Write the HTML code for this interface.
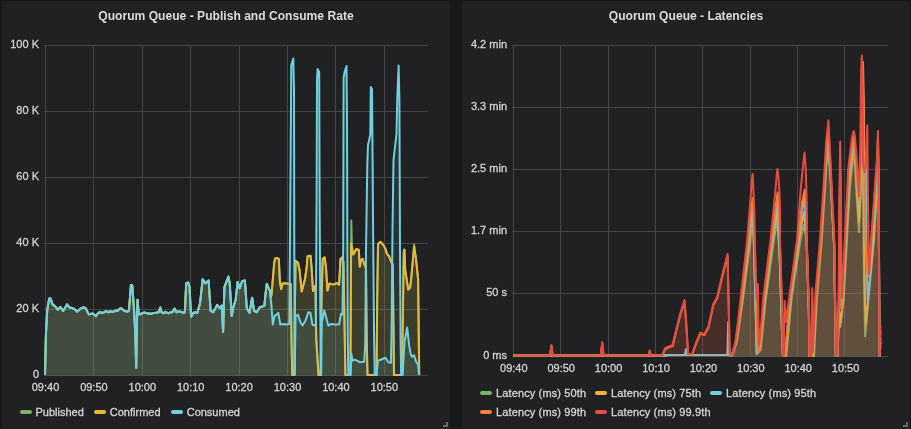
<!DOCTYPE html>
<html><head><meta charset="utf-8"><title>Quorum Queue</title>
<style>
html,body{margin:0;padding:0;background:#161719;}
body{width:911px;height:429px;overflow:hidden;position:relative;font-family:"Liberation Sans",sans-serif;color:#d8d9da;}
.panel{position:absolute;top:1px;height:440px;background:#212124;border-radius:2px;}
.title{position:absolute;top:7.5px;height:16px;line-height:16px;text-align:center;font-weight:bold;font-size:12.1px;color:#dcdcdd;white-space:nowrap;}
.cv{position:absolute;left:0;top:0;}
.yl,.xl,.lg{-webkit-text-stroke:0.3px #d4d4d5;}
.yl{position:absolute;height:14px;line-height:14px;font-size:11px;color:#d4d4d5;white-space:nowrap;text-align:right;}
.xl{position:absolute;width:40px;height:14px;line-height:14px;font-size:11px;color:#d4d4d5;text-align:center;white-space:nowrap;}
.lg{position:absolute;height:14px;line-height:14px;font-size:11px;color:#d8d9da;white-space:nowrap;}
.ls{letter-spacing:0.13px;}
.lg i{position:absolute;left:-16px;top:5px;width:12px;height:4px;border-radius:2px;display:block;}
</style></head><body>
<div class="panel" style="left:2px;width:448px"></div>
<div class="panel" style="left:462px;width:448px"></div>
<svg class="cv" width="911" height="429" viewBox="0 0 911 429">
<g stroke="#464649" stroke-width="1" shape-rendering="crispEdges">
<line x1="45.5" y1="45.0" x2="45.5" y2="376.0"/>
<line x1="93.5" y1="45.0" x2="93.5" y2="376.0"/>
<line x1="142.5" y1="45.0" x2="142.5" y2="376.0"/>
<line x1="190.5" y1="45.0" x2="190.5" y2="376.0"/>
<line x1="239.5" y1="45.0" x2="239.5" y2="376.0"/>
<line x1="287.5" y1="45.0" x2="287.5" y2="376.0"/>
<line x1="335.5" y1="45.0" x2="335.5" y2="376.0"/>
<line x1="384.5" y1="45.0" x2="384.5" y2="376.0"/>
<line x1="44.0" y1="45.5" x2="427.5" y2="45.5"/>
<line x1="44.0" y1="111.5" x2="427.5" y2="111.5"/>
<line x1="44.0" y1="177.5" x2="427.5" y2="177.5"/>
<line x1="44.0" y1="243.5" x2="427.5" y2="243.5"/>
<line x1="44.0" y1="309.5" x2="427.5" y2="309.5"/>
<line x1="44.0" y1="375.5" x2="427.5" y2="375.5"/>
</g>
<g stroke="#464649" stroke-width="1" shape-rendering="crispEdges">
<line x1="513.5" y1="45.0" x2="513.5" y2="357.0"/>
<line x1="560.5" y1="45.0" x2="560.5" y2="357.0"/>
<line x1="608.5" y1="45.0" x2="608.5" y2="357.0"/>
<line x1="655.5" y1="45.0" x2="655.5" y2="357.0"/>
<line x1="702.5" y1="45.0" x2="702.5" y2="357.0"/>
<line x1="750.5" y1="45.0" x2="750.5" y2="357.0"/>
<line x1="797.5" y1="45.0" x2="797.5" y2="357.0"/>
<line x1="844.5" y1="45.0" x2="844.5" y2="357.0"/>
<line x1="512.0" y1="45.5" x2="888.0" y2="45.5"/>
<line x1="512.0" y1="107.5" x2="888.0" y2="107.5"/>
<line x1="512.0" y1="169.5" x2="888.0" y2="169.5"/>
<line x1="512.0" y1="231.5" x2="888.0" y2="231.5"/>
<line x1="512.0" y1="293.5" x2="888.0" y2="293.5"/>
<line x1="512.0" y1="356.5" x2="888.0" y2="356.5"/>
</g>
<polygon points="45.0,375.0 45.9,335.0 47.2,310.3 49.2,298.4 50.5,298.4 52.5,304.4 55.2,306.4 57.8,309.6 60.4,307.0 63.1,311.0 67.0,304.4 69.6,307.7 71.2,307.7 72.9,308.3 74.9,309.3 76.9,311.6 78.8,310.2 80.8,308.3 83.2,307.3 85.5,307.9 88.7,314.3 90.7,314.0 92.7,313.6 94.3,314.7 96.0,316.2 97.7,313.5 99.3,312.3 101.2,312.6 103.2,312.9 105.9,311.0 108.5,312.3 110.3,311.2 112.0,311.7 113.8,311.6 115.8,310.5 117.7,311.0 119.3,308.9 121.0,308.3 122.7,309.5 124.3,311.0 127.0,311.6 128.9,311.0 130.9,285.3 132.2,285.3 134.2,311.6 135.5,340.0 136.2,368.0 136.8,330.0 137.5,299.8 138.8,314.3 140.8,314.2 142.8,312.9 144.5,312.5 146.3,312.9 148.0,313.6 149.8,313.6 151.5,313.9 153.3,312.9 155.1,312.9 156.8,312.4 158.6,312.5 160.3,307.5 161.6,312.2 163.4,313.3 165.3,311.8 167.1,312.8 168.9,313.2 170.6,312.0 172.4,312.2 174.6,308.5 176.4,312.2 178.1,311.6 179.8,311.5 181.5,311.9 183.2,312.8 184.9,312.2 186.2,283.2 188.2,282.5 189.5,287.1 191.1,316.8 193.5,312.8 195.4,312.2 197.4,312.8 200.1,302.9 202.7,279.2 205.3,283.2 206.9,282.0 208.6,280.5 210.6,310.8 213.2,312.2 217.2,304.9 219.8,308.2 221.8,305.6 223.1,332.0 224.4,287.1 228.4,276.6 229.7,283.2 231.7,316.1 233.7,305.6 235.6,300.3 237.6,281.9 239.6,288.4 242.2,281.2 244.9,280.5 246.8,308.2 249.5,312.8 252.1,297.7 254.1,310.8 256.7,312.2 260.0,306.9 262.2,306.5 264.4,305.5 265.4,294.9 266.8,283.8 269.9,290.9 270.8,297.0 271.5,295.0 274.2,263.0 275.0,258.6 276.6,258.0 278.8,258.9 279.9,282.0 281.2,289.0 282.5,283.6 285.2,283.2 287.8,283.8 290.8,284.0 291.5,340.0 292.3,375.0 294.3,375.0 295.0,300.0 295.6,260.8 298.0,262.8 299.5,269.7 301.7,291.5 305.0,279.0 306.6,268.0 307.6,256.2 310.6,255.8 311.6,268.0 313.0,291.0 314.8,286.0 315.5,290.0 316.3,340.0 318.5,375.0 320.5,375.0 321.5,300.0 322.7,258.9 324.7,257.4 326.0,267.8 327.5,290.5 329.4,283.4 333.1,284.6 336.6,283.1 339.1,284.6 340.5,258.9 342.0,257.4 343.5,262.0 344.4,317.0 345.4,375.0 350.4,375.0 350.9,300.0 351.3,220.5 351.9,246.0 353.3,254.5 356.3,249.0 358.8,250.0 359.8,266.8 361.2,259.9 362.7,258.9 364.2,263.8 366.0,268.0 366.7,340.0 367.5,375.0 376.5,375.0 377.2,300.0 378.0,244.2 380.3,241.7 383.5,245.1 385.5,249.0 387.0,254.0 389.0,256.0 390.9,261.0 392.8,265.0 393.6,340.0 394.0,375.0 402.0,375.0 402.8,320.0 403.8,252.0 404.4,249.6 405.2,269.8 408.2,289.5 410.2,287.5 411.1,279.6 414.1,244.5 416.1,259.9 418.1,279.6 418.6,320.0 419.2,375.0 419.2,375.5 45.0,375.5" fill="#7eb26d" fill-opacity="0.1" stroke="none"/>
<polyline points="45.0,375.0 45.9,335.0 47.2,310.3 49.2,298.4 50.5,298.4 52.5,304.4 55.2,306.4 57.8,309.6 60.4,307.0 63.1,311.0 67.0,304.4 69.6,307.7 71.2,307.7 72.9,308.3 74.9,309.3 76.9,311.6 78.8,310.2 80.8,308.3 83.2,307.3 85.5,307.9 88.7,314.3 90.7,314.0 92.7,313.6 94.3,314.7 96.0,316.2 97.7,313.5 99.3,312.3 101.2,312.6 103.2,312.9 105.9,311.0 108.5,312.3 110.3,311.2 112.0,311.7 113.8,311.6 115.8,310.5 117.7,311.0 119.3,308.9 121.0,308.3 122.7,309.5 124.3,311.0 127.0,311.6 128.9,311.0 130.9,285.3 132.2,285.3 134.2,311.6 135.5,340.0 136.2,368.0 136.8,330.0 137.5,299.8 138.8,314.3 140.8,314.2 142.8,312.9 144.5,312.5 146.3,312.9 148.0,313.6 149.8,313.6 151.5,313.9 153.3,312.9 155.1,312.9 156.8,312.4 158.6,312.5 160.3,307.5 161.6,312.2 163.4,313.3 165.3,311.8 167.1,312.8 168.9,313.2 170.6,312.0 172.4,312.2 174.6,308.5 176.4,312.2 178.1,311.6 179.8,311.5 181.5,311.9 183.2,312.8 184.9,312.2 186.2,283.2 188.2,282.5 189.5,287.1 191.1,316.8 193.5,312.8 195.4,312.2 197.4,312.8 200.1,302.9 202.7,279.2 205.3,283.2 206.9,282.0 208.6,280.5 210.6,310.8 213.2,312.2 217.2,304.9 219.8,308.2 221.8,305.6 223.1,332.0 224.4,287.1 228.4,276.6 229.7,283.2 231.7,316.1 233.7,305.6 235.6,300.3 237.6,281.9 239.6,288.4 242.2,281.2 244.9,280.5 246.8,308.2 249.5,312.8 252.1,297.7 254.1,310.8 256.7,312.2 260.0,306.9 262.2,306.5 264.4,305.5 265.4,294.9 266.8,283.8 269.9,290.9 270.8,297.0 271.5,295.0 274.2,263.0 275.0,258.6 276.6,258.0 278.8,258.9 279.9,282.0 281.2,289.0 282.5,283.6 285.2,283.2 287.8,283.8 290.8,284.0 291.5,340.0 292.3,375.0 294.3,375.0 295.0,300.0 295.6,260.8 298.0,262.8 299.5,269.7 301.7,291.5 305.0,279.0 306.6,268.0 307.6,256.2 310.6,255.8 311.6,268.0 313.0,291.0 314.8,286.0 315.5,290.0 316.3,340.0 318.5,375.0 320.5,375.0 321.5,300.0 322.7,258.9 324.7,257.4 326.0,267.8 327.5,290.5 329.4,283.4 333.1,284.6 336.6,283.1 339.1,284.6 340.5,258.9 342.0,257.4 343.5,262.0 344.4,317.0 345.4,375.0 350.4,375.0 350.9,300.0 351.3,220.5 351.9,246.0 353.3,254.5 356.3,249.0 358.8,250.0 359.8,266.8 361.2,259.9 362.7,258.9 364.2,263.8 366.0,268.0 366.7,340.0 367.5,375.0 376.5,375.0 377.2,300.0 378.0,244.2 380.3,241.7 383.5,245.1 385.5,249.0 387.0,254.0 389.0,256.0 390.9,261.0 392.8,265.0 393.6,340.0 394.0,375.0 402.0,375.0 402.8,320.0 403.8,252.0 404.4,249.6 405.2,269.8 408.2,289.5 410.2,287.5 411.1,279.6 414.1,244.5 416.1,259.9 418.1,279.6 418.6,320.0 419.2,375.0" fill="none" stroke="#7eb26d" stroke-width="2" stroke-linejoin="round" stroke-linecap="butt"/>
<polygon points="45.0,375.0 45.9,335.0 47.2,310.3 49.2,298.4 50.5,298.4 52.5,304.4 55.2,306.4 57.8,309.6 60.4,307.0 63.1,311.0 67.0,304.4 69.6,307.7 71.2,307.7 72.9,308.3 74.9,309.3 76.9,311.6 78.8,310.2 80.8,308.3 83.2,307.3 85.5,307.9 88.7,314.3 90.7,314.0 92.7,313.6 94.3,314.7 96.0,316.2 97.7,313.5 99.3,312.3 101.2,312.6 103.2,312.9 105.9,311.0 108.5,312.3 110.3,311.2 112.0,311.7 113.8,311.6 115.8,310.5 117.7,311.0 119.3,308.9 121.0,308.3 122.7,309.5 124.3,311.0 127.0,311.6 128.9,311.0 130.9,285.3 132.2,285.3 134.2,311.6 135.5,340.0 136.2,368.0 136.8,330.0 137.5,299.8 138.8,314.3 140.8,314.2 142.8,312.9 144.5,312.5 146.3,312.9 148.0,313.6 149.8,313.6 151.5,313.9 153.3,312.9 155.1,312.9 156.8,312.4 158.6,312.5 160.3,307.5 161.6,312.2 163.4,313.3 165.3,311.8 167.1,312.8 168.9,313.2 170.6,312.0 172.4,312.2 174.6,308.5 176.4,312.2 178.1,311.6 179.8,311.5 181.5,311.9 183.2,312.8 184.9,312.2 186.2,283.2 188.2,282.5 189.5,287.1 191.1,316.8 193.5,312.8 195.4,312.2 197.4,312.8 200.1,302.9 202.7,279.2 205.3,283.2 206.9,282.0 208.6,280.5 210.6,310.8 213.2,312.2 217.2,304.9 219.8,308.2 221.8,305.6 223.1,332.0 224.4,287.1 228.4,276.6 229.7,283.2 231.7,316.1 233.7,305.6 235.6,300.3 237.6,281.9 239.6,288.4 242.2,281.2 244.9,280.5 246.8,308.2 249.5,312.8 252.1,297.7 254.1,310.8 256.7,312.2 260.0,306.9 262.2,306.5 264.4,305.5 265.4,294.9 266.8,283.8 269.9,290.9 270.8,297.0 271.5,295.0 274.2,263.0 275.0,258.6 276.6,258.0 278.8,258.9 279.9,282.0 281.2,289.0 282.5,283.6 285.2,283.2 287.8,283.8 290.8,284.0 291.5,340.0 292.3,375.0 294.3,375.0 295.0,300.0 295.6,260.8 298.0,262.8 299.5,269.7 301.7,291.5 305.0,279.0 306.6,268.0 307.6,256.2 310.6,255.8 311.6,268.0 313.0,291.0 314.8,286.0 315.5,290.0 316.3,340.0 318.5,375.0 320.5,375.0 321.5,300.0 322.7,258.9 324.7,257.4 326.0,267.8 327.5,290.5 329.4,283.4 333.1,284.6 336.6,283.1 339.1,284.6 340.5,258.9 342.0,257.4 343.5,262.0 344.4,317.0 345.4,375.0 350.4,375.0 350.9,243.2 353.3,254.5 356.3,249.0 358.8,250.0 359.8,266.8 361.2,259.9 362.7,258.9 364.2,263.8 366.0,268.0 366.7,340.0 367.5,375.0 376.5,375.0 377.2,300.0 378.0,244.2 380.3,241.7 383.5,245.1 385.5,249.0 387.0,254.0 389.0,256.0 390.9,261.0 392.8,265.0 393.6,340.0 394.0,375.0 402.0,375.0 402.8,320.0 403.8,252.0 404.4,249.6 405.2,269.8 408.2,289.5 410.2,287.5 411.1,279.6 414.1,247.0 416.1,259.9 418.1,279.6 418.6,320.0 419.2,375.0 419.2,375.5 45.0,375.5" fill="#eab839" fill-opacity="0.1" stroke="none"/>
<polyline points="45.0,375.0 45.9,335.0 47.2,310.3 49.2,298.4 50.5,298.4 52.5,304.4 55.2,306.4 57.8,309.6 60.4,307.0 63.1,311.0 67.0,304.4 69.6,307.7 71.2,307.7 72.9,308.3 74.9,309.3 76.9,311.6 78.8,310.2 80.8,308.3 83.2,307.3 85.5,307.9 88.7,314.3 90.7,314.0 92.7,313.6 94.3,314.7 96.0,316.2 97.7,313.5 99.3,312.3 101.2,312.6 103.2,312.9 105.9,311.0 108.5,312.3 110.3,311.2 112.0,311.7 113.8,311.6 115.8,310.5 117.7,311.0 119.3,308.9 121.0,308.3 122.7,309.5 124.3,311.0 127.0,311.6 128.9,311.0 130.9,285.3 132.2,285.3 134.2,311.6 135.5,340.0 136.2,368.0 136.8,330.0 137.5,299.8 138.8,314.3 140.8,314.2 142.8,312.9 144.5,312.5 146.3,312.9 148.0,313.6 149.8,313.6 151.5,313.9 153.3,312.9 155.1,312.9 156.8,312.4 158.6,312.5 160.3,307.5 161.6,312.2 163.4,313.3 165.3,311.8 167.1,312.8 168.9,313.2 170.6,312.0 172.4,312.2 174.6,308.5 176.4,312.2 178.1,311.6 179.8,311.5 181.5,311.9 183.2,312.8 184.9,312.2 186.2,283.2 188.2,282.5 189.5,287.1 191.1,316.8 193.5,312.8 195.4,312.2 197.4,312.8 200.1,302.9 202.7,279.2 205.3,283.2 206.9,282.0 208.6,280.5 210.6,310.8 213.2,312.2 217.2,304.9 219.8,308.2 221.8,305.6 223.1,332.0 224.4,287.1 228.4,276.6 229.7,283.2 231.7,316.1 233.7,305.6 235.6,300.3 237.6,281.9 239.6,288.4 242.2,281.2 244.9,280.5 246.8,308.2 249.5,312.8 252.1,297.7 254.1,310.8 256.7,312.2 260.0,306.9 262.2,306.5 264.4,305.5 265.4,294.9 266.8,283.8 269.9,290.9 270.8,297.0 271.5,295.0 274.2,263.0 275.0,258.6 276.6,258.0 278.8,258.9 279.9,282.0 281.2,289.0 282.5,283.6 285.2,283.2 287.8,283.8 290.8,284.0 291.5,340.0 292.3,375.0 294.3,375.0 295.0,300.0 295.6,260.8 298.0,262.8 299.5,269.7 301.7,291.5 305.0,279.0 306.6,268.0 307.6,256.2 310.6,255.8 311.6,268.0 313.0,291.0 314.8,286.0 315.5,290.0 316.3,340.0 318.5,375.0 320.5,375.0 321.5,300.0 322.7,258.9 324.7,257.4 326.0,267.8 327.5,290.5 329.4,283.4 333.1,284.6 336.6,283.1 339.1,284.6 340.5,258.9 342.0,257.4 343.5,262.0 344.4,317.0 345.4,375.0 350.4,375.0 350.9,243.2 353.3,254.5 356.3,249.0 358.8,250.0 359.8,266.8 361.2,259.9 362.7,258.9 364.2,263.8 366.0,268.0 366.7,340.0 367.5,375.0 376.5,375.0 377.2,300.0 378.0,244.2 380.3,241.7 383.5,245.1 385.5,249.0 387.0,254.0 389.0,256.0 390.9,261.0 392.8,265.0 393.6,340.0 394.0,375.0 402.0,375.0 402.8,320.0 403.8,252.0 404.4,249.6 405.2,269.8 408.2,289.5 410.2,287.5 411.1,279.6 414.1,247.0 416.1,259.9 418.1,279.6 418.6,320.0 419.2,375.0" fill="none" stroke="#eab839" stroke-width="2" stroke-linejoin="round" stroke-linecap="butt"/>
<polygon points="45.0,375.0 45.9,335.0 47.2,310.3 49.2,298.4 50.5,298.4 52.5,304.4 55.2,306.4 57.8,309.6 60.4,307.0 63.1,311.0 67.0,304.4 69.6,307.7 71.2,307.7 72.9,308.3 74.9,309.3 76.9,311.6 78.8,310.2 80.8,308.3 83.2,307.3 85.5,307.9 88.7,314.3 90.7,314.0 92.7,313.6 94.3,314.7 96.0,316.2 97.7,313.5 99.3,312.3 101.2,312.6 103.2,312.9 105.9,311.0 108.5,312.3 110.3,311.2 112.0,311.7 113.8,311.6 115.8,310.5 117.7,311.0 119.3,308.9 121.0,308.3 122.7,309.5 124.3,311.0 127.0,311.6 128.9,311.0 130.9,285.3 132.2,285.3 134.2,311.6 135.5,340.0 136.2,368.0 136.8,330.0 137.5,299.8 138.8,314.3 140.8,314.2 142.8,312.9 144.5,312.5 146.3,312.9 148.0,313.6 149.8,313.6 151.5,313.9 153.3,312.9 155.1,312.9 156.8,312.4 158.6,312.5 160.3,307.5 161.6,312.2 163.4,313.3 165.3,311.8 167.1,312.8 168.9,313.2 170.6,312.0 172.4,312.2 174.6,308.5 176.4,312.2 178.1,311.6 179.8,311.5 181.5,311.9 183.2,312.8 184.9,312.2 186.2,283.2 188.2,282.5 189.5,287.1 191.1,316.8 193.5,312.8 195.4,312.2 197.4,312.8 200.1,302.9 202.7,279.2 205.3,283.2 206.9,282.0 208.6,280.5 210.6,310.8 213.2,312.2 217.2,304.9 219.8,308.2 221.8,305.6 223.1,332.0 224.4,287.1 228.4,276.6 229.7,283.2 231.7,316.1 233.7,305.6 235.6,300.3 237.6,281.9 239.6,288.4 242.2,281.2 244.9,280.5 246.8,308.2 249.5,312.8 252.1,297.7 254.1,310.8 256.7,312.2 260.0,306.9 262.2,306.5 264.4,305.5 265.4,294.9 266.8,283.8 269.9,290.9 271.4,304.8 272.8,324.5 274.8,315.6 276.8,314.6 278.3,312.7 280.3,324.5 282.7,324.0 285.7,324.5 289.3,324.0 290.3,200.0 291.3,65.0 293.3,58.5 294.0,90.0 294.3,250.0 294.8,375.0 295.2,340.0 295.6,316.6 298.0,314.6 300.5,322.5 302.5,325.5 305.5,320.6 308.4,312.2 310.4,312.7 312.4,324.5 314.3,325.5 315.8,325.0 316.6,200.0 317.0,80.0 317.6,69.0 319.2,72.0 319.6,200.0 320.5,340.0 321.2,375.0 321.5,340.0 321.8,322.5 324.2,310.2 326.2,317.6 328.2,325.5 331.1,324.0 335.1,324.5 339.1,324.5 341.0,313.7 342.5,314.6 343.2,250.0 343.6,78.0 344.6,72.0 346.5,66.0 347.0,120.0 347.4,250.0 347.8,340.0 348.3,375.0 350.4,375.0 351.4,353.8 352.4,360.7 354.8,359.7 359.8,362.2 364.2,361.7 365.2,345.0 366.0,250.0 367.3,165.0 368.0,145.0 370.3,135.0 370.8,87.0 372.0,89.0 372.6,160.0 373.1,230.0 374.1,340.0 374.8,375.0 376.6,375.0 378.0,360.7 380.5,359.7 385.5,357.7 388.4,362.2 390.9,362.7 391.6,330.0 392.5,230.0 393.5,160.0 396.5,134.0 397.2,100.0 398.6,65.5 399.4,100.0 400.0,250.0 400.6,340.0 401.1,375.0 402.7,375.0 403.7,355.8 404.7,340.9 407.2,327.5 409.2,345.9 410.7,353.8 412.1,356.8 414.1,355.3 416.1,361.7 418.1,364.7 419.0,374.5 419.0,375.5 45.0,375.5" fill="#6ed0e0" fill-opacity="0.1" stroke="none"/>
<polyline points="45.0,375.0 45.9,335.0 47.2,310.3 49.2,298.4 50.5,298.4 52.5,304.4 55.2,306.4 57.8,309.6 60.4,307.0 63.1,311.0 67.0,304.4 69.6,307.7 71.2,307.7 72.9,308.3 74.9,309.3 76.9,311.6 78.8,310.2 80.8,308.3 83.2,307.3 85.5,307.9 88.7,314.3 90.7,314.0 92.7,313.6 94.3,314.7 96.0,316.2 97.7,313.5 99.3,312.3 101.2,312.6 103.2,312.9 105.9,311.0 108.5,312.3 110.3,311.2 112.0,311.7 113.8,311.6 115.8,310.5 117.7,311.0 119.3,308.9 121.0,308.3 122.7,309.5 124.3,311.0 127.0,311.6 128.9,311.0 130.9,285.3 132.2,285.3 134.2,311.6 135.5,340.0 136.2,368.0 136.8,330.0 137.5,299.8 138.8,314.3 140.8,314.2 142.8,312.9 144.5,312.5 146.3,312.9 148.0,313.6 149.8,313.6 151.5,313.9 153.3,312.9 155.1,312.9 156.8,312.4 158.6,312.5 160.3,307.5 161.6,312.2 163.4,313.3 165.3,311.8 167.1,312.8 168.9,313.2 170.6,312.0 172.4,312.2 174.6,308.5 176.4,312.2 178.1,311.6 179.8,311.5 181.5,311.9 183.2,312.8 184.9,312.2 186.2,283.2 188.2,282.5 189.5,287.1 191.1,316.8 193.5,312.8 195.4,312.2 197.4,312.8 200.1,302.9 202.7,279.2 205.3,283.2 206.9,282.0 208.6,280.5 210.6,310.8 213.2,312.2 217.2,304.9 219.8,308.2 221.8,305.6 223.1,332.0 224.4,287.1 228.4,276.6 229.7,283.2 231.7,316.1 233.7,305.6 235.6,300.3 237.6,281.9 239.6,288.4 242.2,281.2 244.9,280.5 246.8,308.2 249.5,312.8 252.1,297.7 254.1,310.8 256.7,312.2 260.0,306.9 262.2,306.5 264.4,305.5 265.4,294.9 266.8,283.8 269.9,290.9 271.4,304.8 272.8,324.5 274.8,315.6 276.8,314.6 278.3,312.7 280.3,324.5 282.7,324.0 285.7,324.5 289.3,324.0 290.3,200.0 291.3,65.0 293.3,58.5 294.0,90.0 294.3,250.0 294.8,375.0 295.2,340.0 295.6,316.6 298.0,314.6 300.5,322.5 302.5,325.5 305.5,320.6 308.4,312.2 310.4,312.7 312.4,324.5 314.3,325.5 315.8,325.0 316.6,200.0 317.0,80.0 317.6,69.0 319.2,72.0 319.6,200.0 320.5,340.0 321.2,375.0 321.5,340.0 321.8,322.5 324.2,310.2 326.2,317.6 328.2,325.5 331.1,324.0 335.1,324.5 339.1,324.5 341.0,313.7 342.5,314.6 343.2,250.0 343.6,78.0 344.6,72.0 346.5,66.0 347.0,120.0 347.4,250.0 347.8,340.0 348.3,375.0 350.4,375.0 351.4,353.8 352.4,360.7 354.8,359.7 359.8,362.2 364.2,361.7 365.2,345.0 366.0,250.0 367.3,165.0 368.0,145.0 370.3,135.0 370.8,87.0 372.0,89.0 372.6,160.0 373.1,230.0 374.1,340.0 374.8,375.0 376.6,375.0 378.0,360.7 380.5,359.7 385.5,357.7 388.4,362.2 390.9,362.7 391.6,330.0 392.5,230.0 393.5,160.0 396.5,134.0 397.2,100.0 398.6,65.5 399.4,100.0 400.0,250.0 400.6,340.0 401.1,375.0 402.7,375.0 403.7,355.8 404.7,340.9 407.2,327.5 409.2,345.9 410.7,353.8 412.1,356.8 414.1,355.3 416.1,361.7 418.1,364.7 419.0,374.5" fill="none" stroke="#6ed0e0" stroke-width="2" stroke-linejoin="round" stroke-linecap="butt"/>
<polygon points="513.4,355.5 664.0,355.5 668.0,354.9 684.8,354.7 686.1,354.0 687.4,354.9 727.4,354.7 728.2,351.0 729.0,355.0 732.5,355.5 736.8,342.0 739.9,321.0 743.0,299.0 750.6,240.0 752.3,210.0 753.8,240.0 755.4,300.0 756.8,354.0 760.6,350.0 765.7,300.0 773.9,240.0 777.3,219.0 779.8,260.0 781.9,330.0 782.9,356.0 786.3,356.0 791.5,299.0 800.4,240.0 803.8,225.0 806.6,240.0 808.8,310.0 809.6,356.0 814.1,356.0 816.9,299.0 818.9,275.0 821.8,240.0 825.4,182.0 827.1,150.0 828.3,160.6 830.3,170.0 831.6,198.0 834.2,248.0 835.1,308.0 835.8,356.0 837.6,356.0 839.0,310.0 840.3,327.0 843.6,300.0 846.5,248.0 850.0,186.0 852.4,164.0 854.1,149.0 857.0,202.0 859.0,232.0 860.8,195.0 862.0,150.0 863.2,200.0 864.0,280.0 865.2,336.4 868.5,298.7 874.0,240.0 877.6,176.0 878.0,152.0 878.8,220.0 879.2,300.0 879.5,356.0 880.5,346.0 880.5,356.5 513.4,356.5" fill="#7eb26d" fill-opacity="0.1" stroke="none"/>
<polyline points="513.4,355.5 664.0,355.5 668.0,354.9 684.8,354.7 686.1,354.0 687.4,354.9 727.4,354.7 728.2,351.0 729.0,355.0 732.5,355.5 736.8,342.0 739.9,321.0 743.0,299.0 750.6,240.0 752.3,210.0 753.8,240.0 755.4,300.0 756.8,354.0 760.6,350.0 765.7,300.0 773.9,240.0 777.3,219.0 779.8,260.0 781.9,330.0 782.9,356.0 786.3,356.0 791.5,299.0 800.4,240.0 803.8,225.0 806.6,240.0 808.8,310.0 809.6,356.0 814.1,356.0 816.9,299.0 818.9,275.0 821.8,240.0 825.4,182.0 827.1,150.0 828.3,160.6 830.3,170.0 831.6,198.0 834.2,248.0 835.1,308.0 835.8,356.0 837.6,356.0 839.0,310.0 840.3,327.0 843.6,300.0 846.5,248.0 850.0,186.0 852.4,164.0 854.1,149.0 857.0,202.0 859.0,232.0 860.8,195.0 862.0,150.0 863.2,200.0 864.0,280.0 865.2,336.4 868.5,298.7 874.0,240.0 877.6,176.0 878.0,152.0 878.8,220.0 879.2,300.0 879.5,356.0 880.5,346.0" fill="none" stroke="#7eb26d" stroke-width="2" stroke-linejoin="round" stroke-linecap="butt"/>
<polygon points="513.4,355.5 664.0,355.5 668.0,354.9 684.8,354.7 686.1,354.0 687.4,354.9 727.4,354.7 728.2,351.0 729.0,355.0 732.0,355.5 736.2,342.0 739.2,321.0 742.1,299.0 749.2,240.0 752.3,206.0 753.8,240.0 755.4,300.0 756.8,354.0 760.0,350.0 764.8,300.0 772.5,240.0 777.3,210.0 779.8,260.0 781.9,330.0 782.9,356.0 785.7,356.0 790.6,299.0 799.0,240.0 803.8,212.0 806.6,240.0 808.8,310.0 809.6,356.0 813.4,356.0 816.2,299.0 818.2,275.0 821.1,240.0 824.9,182.0 826.9,150.0 828.3,145.0 830.3,170.0 831.6,198.0 834.2,248.0 835.1,308.0 835.8,356.0 837.6,356.0 839.0,310.0 840.3,322.4 843.2,300.0 846.0,246.0 849.4,180.0 852.0,158.0 854.0,143.0 857.0,192.0 859.0,222.0 860.8,180.0 862.0,135.0 863.5,165.0 864.2,240.0 865.0,300.0 866.0,324.0 868.0,298.7 873.6,240.0 877.4,172.0 878.0,146.0 878.8,215.0 879.2,300.0 879.5,356.0 880.5,342.0 880.5,356.5 513.4,356.5" fill="#eab839" fill-opacity="0.1" stroke="none"/>
<polyline points="513.4,355.5 664.0,355.5 668.0,354.9 684.8,354.7 686.1,354.0 687.4,354.9 727.4,354.7 728.2,351.0 729.0,355.0 732.0,355.5 736.2,342.0 739.2,321.0 742.1,299.0 749.2,240.0 752.3,206.0 753.8,240.0 755.4,300.0 756.8,354.0 760.0,350.0 764.8,300.0 772.5,240.0 777.3,210.0 779.8,260.0 781.9,330.0 782.9,356.0 785.7,356.0 790.6,299.0 799.0,240.0 803.8,212.0 806.6,240.0 808.8,310.0 809.6,356.0 813.4,356.0 816.2,299.0 818.2,275.0 821.1,240.0 824.9,182.0 826.9,150.0 828.3,145.0 830.3,170.0 831.6,198.0 834.2,248.0 835.1,308.0 835.8,356.0 837.6,356.0 839.0,310.0 840.3,322.4 843.2,300.0 846.0,246.0 849.4,180.0 852.0,158.0 854.0,143.0 857.0,192.0 859.0,222.0 860.8,180.0 862.0,135.0 863.5,165.0 864.2,240.0 865.0,300.0 866.0,324.0 868.0,298.7 873.6,240.0 877.4,172.0 878.0,146.0 878.8,215.0 879.2,300.0 879.5,356.0 880.5,342.0" fill="none" stroke="#eab839" stroke-width="2" stroke-linejoin="round" stroke-linecap="butt"/>
<polygon points="513.4,355.5 664.0,355.5 668.0,354.9 684.8,354.7 686.1,349.1 687.4,354.9 727.4,354.7 728.2,322.0 729.0,355.0 731.7,355.5 735.8,342.0 738.7,321.0 741.4,299.0 748.2,240.0 752.3,203.0 753.8,240.0 755.4,300.0 756.8,354.0 759.6,350.0 764.1,300.0 771.5,240.0 777.3,199.0 779.8,260.0 781.9,330.0 782.9,356.0 785.3,356.0 789.9,299.0 798.0,240.0 803.8,196.0 806.6,240.0 808.8,310.0 809.6,356.0 812.9,356.0 815.7,299.0 817.7,275.0 820.6,240.0 824.6,182.0 826.7,150.0 828.3,136.0 830.3,170.0 831.6,198.0 834.2,248.0 835.1,308.0 835.8,356.0 837.6,356.0 838.9,300.0 839.6,215.0 840.2,176.0 840.8,250.0 841.5,308.0 842.9,300.0 845.6,244.0 849.0,175.0 851.6,154.0 853.9,140.0 857.0,184.0 859.0,204.0 860.8,170.0 862.0,120.0 864.0,150.0 866.0,162.0 866.3,240.0 867.5,300.0 869.5,285.0 872.0,242.0 877.2,168.0 878.0,142.0 878.8,210.0 879.2,300.0 879.5,356.0 880.5,338.0 880.5,356.5 513.4,356.5" fill="#6ed0e0" fill-opacity="0.1" stroke="none"/>
<polyline points="513.4,355.5 664.0,355.5 668.0,354.9 684.8,354.7 686.1,349.1 687.4,354.9 727.4,354.7 728.2,322.0 729.0,355.0 731.7,355.5 735.8,342.0 738.7,321.0 741.4,299.0 748.2,240.0 752.3,203.0 753.8,240.0 755.4,300.0 756.8,354.0 759.6,350.0 764.1,300.0 771.5,240.0 777.3,199.0 779.8,260.0 781.9,330.0 782.9,356.0 785.3,356.0 789.9,299.0 798.0,240.0 803.8,196.0 806.6,240.0 808.8,310.0 809.6,356.0 812.9,356.0 815.7,299.0 817.7,275.0 820.6,240.0 824.6,182.0 826.7,150.0 828.3,136.0 830.3,170.0 831.6,198.0 834.2,248.0 835.1,308.0 835.8,356.0 837.6,356.0 838.9,300.0 839.6,215.0 840.2,176.0 840.8,250.0 841.5,308.0 842.9,300.0 845.6,244.0 849.0,175.0 851.6,154.0 853.9,140.0 857.0,184.0 859.0,204.0 860.8,170.0 862.0,120.0 864.0,150.0 866.0,162.0 866.3,240.0 867.5,300.0 869.5,285.0 872.0,242.0 877.2,168.0 878.0,142.0 878.8,210.0 879.2,300.0 879.5,356.0 880.5,338.0" fill="none" stroke="#6ed0e0" stroke-width="2" stroke-linejoin="round" stroke-linecap="butt"/>
<polygon points="513.4,355.5 550.0,355.5 551.4,346.0 552.8,355.5 600.8,355.5 602.2,343.0 603.6,355.5 648.5,355.5 649.7,351.0 651.0,355.5 662.3,355.2 665.3,349.0 669.1,347.0 672.7,346.0 676.3,331.0 680.3,315.0 684.5,302.0 686.1,322.0 688.1,354.5 692.3,354.5 696.4,343.0 700.4,333.5 704.4,335.0 708.4,328.0 713.4,305.0 717.4,298.0 722.2,277.0 727.6,256.0 728.6,302.0 729.7,354.0 731.5,355.5 733.0,354.0 736.0,342.0 739.0,321.0 741.5,299.0 748.0,240.0 750.5,214.0 752.6,198.0 753.9,222.0 754.8,245.0 756.0,290.0 757.0,330.0 758.0,352.0 760.0,350.0 763.8,300.0 771.2,240.0 775.5,208.0 777.6,192.6 779.6,218.0 780.0,245.0 781.9,305.0 782.9,356.0 785.3,356.0 789.6,300.0 797.6,240.0 802.0,203.0 804.7,189.8 806.4,215.0 806.8,250.0 808.8,305.0 809.6,356.0 812.5,356.0 816.0,300.0 818.2,275.0 820.8,240.0 824.6,180.0 826.5,146.0 828.4,128.0 830.4,165.0 831.7,194.0 834.3,245.0 835.2,305.0 835.8,356.0 837.4,356.0 838.8,300.0 839.5,215.0 840.2,170.0 840.8,250.0 841.5,310.0 842.6,298.0 845.2,242.0 848.6,172.0 851.3,150.0 853.8,137.0 856.8,178.0 859.0,200.0 860.8,160.0 862.2,80.0 863.0,62.0 863.9,100.0 864.3,170.0 864.8,200.0 865.4,240.0 867.4,272.0 869.0,277.0 871.3,242.0 877.0,164.0 878.0,138.0 878.8,205.0 879.2,300.0 879.5,356.0 880.5,330.0 880.5,356.5 513.4,356.5" fill="#ef843c" fill-opacity="0.1" stroke="none"/>
<polyline points="513.4,355.5 550.0,355.5 551.4,346.0 552.8,355.5 600.8,355.5 602.2,343.0 603.6,355.5 648.5,355.5 649.7,351.0 651.0,355.5 662.3,355.2 665.3,349.0 669.1,347.0 672.7,346.0 676.3,331.0 680.3,315.0 684.5,302.0 686.1,322.0 688.1,354.5 692.3,354.5 696.4,343.0 700.4,333.5 704.4,335.0 708.4,328.0 713.4,305.0 717.4,298.0 722.2,277.0 727.6,256.0 728.6,302.0 729.7,354.0 731.5,355.5 733.0,354.0 736.0,342.0 739.0,321.0 741.5,299.0 748.0,240.0 750.5,214.0 752.6,198.0 753.9,222.0 754.8,245.0 756.0,290.0 757.0,330.0 758.0,352.0 760.0,350.0 763.8,300.0 771.2,240.0 775.5,208.0 777.6,192.6 779.6,218.0 780.0,245.0 781.9,305.0 782.9,356.0 785.3,356.0 789.6,300.0 797.6,240.0 802.0,203.0 804.7,189.8 806.4,215.0 806.8,250.0 808.8,305.0 809.6,356.0 812.5,356.0 816.0,300.0 818.2,275.0 820.8,240.0 824.6,180.0 826.5,146.0 828.4,128.0 830.4,165.0 831.7,194.0 834.3,245.0 835.2,305.0 835.8,356.0 837.4,356.0 838.8,300.0 839.5,215.0 840.2,170.0 840.8,250.0 841.5,310.0 842.6,298.0 845.2,242.0 848.6,172.0 851.3,150.0 853.8,137.0 856.8,178.0 859.0,200.0 860.8,160.0 862.2,80.0 863.0,62.0 863.9,100.0 864.3,170.0 864.8,200.0 865.4,240.0 867.4,272.0 869.0,277.0 871.3,242.0 877.0,164.0 878.0,138.0 878.8,205.0 879.2,300.0 879.5,356.0 880.5,330.0" fill="none" stroke="#ef843c" stroke-width="2" stroke-linejoin="round" stroke-linecap="butt"/>
<polygon points="513.4,355.5 550.0,355.5 551.4,345.0 552.8,355.5 600.8,355.5 602.2,342.0 603.6,355.5 648.5,355.5 649.7,350.5 651.0,355.5 662.1,355.2 665.1,348.1 669.1,346.1 672.5,345.1 676.1,330.1 680.1,314.1 684.5,300.0 686.1,320.1 688.1,354.1 692.1,354.1 696.2,342.1 700.2,332.5 704.2,334.1 708.2,327.1 713.2,304.0 717.2,297.0 722.0,276.0 727.6,254.0 728.6,300.0 729.7,353.0 731.1,355.5 732.5,354.0 735.3,342.0 738.1,321.0 740.5,299.0 747.2,240.0 750.0,205.0 751.8,181.0 752.7,174.0 753.6,194.0 754.4,214.0 754.8,240.0 756.0,285.0 756.8,300.0 757.9,284.0 758.3,312.0 758.8,346.0 761.5,321.0 763.0,300.0 770.5,240.0 775.0,195.0 776.8,174.0 777.5,169.0 778.6,178.0 779.6,195.0 780.1,214.0 780.0,240.0 781.9,300.0 782.9,356.0 783.7,356.0 784.6,301.0 785.8,322.0 789.0,299.0 797.0,240.0 800.6,190.0 803.4,162.0 804.6,152.4 805.8,170.0 806.5,194.0 806.9,214.0 806.8,240.0 808.8,299.0 809.6,356.0 811.0,356.0 812.3,288.0 812.8,352.0 815.0,299.0 817.0,275.0 819.9,240.0 824.0,179.0 826.2,141.0 828.4,120.4 830.5,160.0 831.8,189.0 834.4,240.0 835.3,300.0 835.8,356.0 837.2,356.0 838.6,300.0 839.3,200.0 840.2,141.4 841.0,200.0 841.6,298.0 842.2,294.0 844.8,240.0 848.2,169.0 851.0,145.0 852.6,134.5 853.7,131.0 854.9,136.0 856.8,160.0 859.0,196.0 860.2,150.0 861.1,70.0 861.9,55.5 862.6,90.0 863.0,165.0 864.6,172.0 865.6,165.0 867.3,125.3 868.0,200.0 869.0,274.0 871.0,242.0 876.8,160.0 878.0,131.0 878.8,200.0 879.2,300.0 879.5,356.0 880.5,325.0 880.5,356.5 513.4,356.5" fill="#e24d42" fill-opacity="0.1" stroke="none"/>
<polyline points="513.4,355.5 550.0,355.5 551.4,345.0 552.8,355.5 600.8,355.5 602.2,342.0 603.6,355.5 648.5,355.5 649.7,350.5 651.0,355.5 662.1,355.2 665.1,348.1 669.1,346.1 672.5,345.1 676.1,330.1 680.1,314.1 684.5,300.0 686.1,320.1 688.1,354.1 692.1,354.1 696.2,342.1 700.2,332.5 704.2,334.1 708.2,327.1 713.2,304.0 717.2,297.0 722.0,276.0 727.6,254.0 728.6,300.0 729.7,353.0 731.1,355.5 732.5,354.0 735.3,342.0 738.1,321.0 740.5,299.0 747.2,240.0 750.0,205.0 751.8,181.0 752.7,174.0 753.6,194.0 754.4,214.0 754.8,240.0 756.0,285.0 756.8,300.0 757.9,284.0 758.3,312.0 758.8,346.0 761.5,321.0 763.0,300.0 770.5,240.0 775.0,195.0 776.8,174.0 777.5,169.0 778.6,178.0 779.6,195.0 780.1,214.0 780.0,240.0 781.9,300.0 782.9,356.0 783.7,356.0 784.6,301.0 785.8,322.0 789.0,299.0 797.0,240.0 800.6,190.0 803.4,162.0 804.6,152.4 805.8,170.0 806.5,194.0 806.9,214.0 806.8,240.0 808.8,299.0 809.6,356.0 811.0,356.0 812.3,288.0 812.8,352.0 815.0,299.0 817.0,275.0 819.9,240.0 824.0,179.0 826.2,141.0 828.4,120.4 830.5,160.0 831.8,189.0 834.4,240.0 835.3,300.0 835.8,356.0 837.2,356.0 838.6,300.0 839.3,200.0 840.2,141.4 841.0,200.0 841.6,298.0 842.2,294.0 844.8,240.0 848.2,169.0 851.0,145.0 852.6,134.5 853.7,131.0 854.9,136.0 856.8,160.0 859.0,196.0 860.2,150.0 861.1,70.0 861.9,55.5 862.6,90.0 863.0,165.0 864.6,172.0 865.6,165.0 867.3,125.3 868.0,200.0 869.0,274.0 871.0,242.0 876.8,160.0 878.0,131.0 878.8,200.0 879.2,300.0 879.5,356.0 880.5,325.0" fill="none" stroke="#e24d42" stroke-width="2" stroke-linejoin="round" stroke-linecap="butt"/>
<g fill="#6b6b6d" shape-rendering="crispEdges"><rect x="446" y="422" width="2" height="5"/><rect x="443" y="425" width="5" height="2"/><rect x="906" y="422" width="2" height="5"/><rect x="903" y="425" width="5" height="2"/></g>
</svg>
<div class="title" style="left:2px;width:448px">Quorum Queue - Publish and Consume Rate</div>
<div class="title" style="left:462px;width:448px">Quorum Queue - Latencies</div>
<div class="yl" style="right:872px;top:37.0px">100 K</div>
<div class="yl" style="right:872px;top:103.0px">80 K</div>
<div class="yl" style="right:872px;top:169.0px">60 K</div>
<div class="yl" style="right:872px;top:235.0px">40 K</div>
<div class="yl" style="right:872px;top:301.0px">20 K</div>
<div class="yl" style="right:872px;top:367.0px">0</div>
<div class="yl" style="right:404px;top:37.0px">4.2 min</div>
<div class="yl" style="right:404px;top:99.0px">3.3 min</div>
<div class="yl" style="right:404px;top:161.0px">2.5 min</div>
<div class="yl" style="right:404px;top:223.0px">1.7 min</div>
<div class="yl" style="right:404px;top:285.0px">50 s</div>
<div class="yl" style="right:404px;top:347.5px">0 ms</div>
<div class="xl" style="left:25.5px;top:380.3px">09:40</div>
<div class="xl" style="left:73.9px;top:380.3px">09:50</div>
<div class="xl" style="left:122.3px;top:380.3px">10:00</div>
<div class="xl" style="left:170.7px;top:380.3px">10:10</div>
<div class="xl" style="left:219.1px;top:380.3px">10:20</div>
<div class="xl" style="left:267.5px;top:380.3px">10:30</div>
<div class="xl" style="left:315.9px;top:380.3px">10:40</div>
<div class="xl" style="left:364.3px;top:380.3px">10:50</div>
<div class="xl" style="left:493.8px;top:361.3px">09:40</div>
<div class="xl" style="left:541.2px;top:361.3px">09:50</div>
<div class="xl" style="left:588.6px;top:361.3px">10:00</div>
<div class="xl" style="left:636.0px;top:361.3px">10:10</div>
<div class="xl" style="left:683.4px;top:361.3px">10:20</div>
<div class="xl" style="left:730.8px;top:361.3px">10:30</div>
<div class="xl" style="left:778.2px;top:361.3px">10:40</div>
<div class="xl" style="left:825.6px;top:361.3px">10:50</div>
<div class="lg" style="left:35.5px;top:405.0px"><i style="background:#7eb26d"></i>Published</div>
<div class="lg" style="left:109.8px;top:405.0px"><i style="background:#eab839"></i>Confirmed</div>
<div class="lg" style="left:186.7px;top:405.0px"><i style="background:#6ed0e0"></i>Consumed</div>
<div class="lg ls" style="left:496.0px;top:386.0px"><i style="background:#7eb26d"></i>Latency (ms) 50th</div>
<div class="lg ls" style="left:611.0px;top:386.0px"><i style="background:#eab839"></i>Latency (ms) 75th</div>
<div class="lg ls" style="left:726.0px;top:386.0px"><i style="background:#6ed0e0"></i>Latency (ms) 95th</div>
<div class="lg ls" style="left:496.0px;top:405.0px"><i style="background:#ef843c"></i>Latency (ms) 99th</div>
<div class="lg ls" style="left:611.0px;top:405.0px"><i style="background:#e24d42"></i>Latency (ms) 99.9th</div>
</body></html>
